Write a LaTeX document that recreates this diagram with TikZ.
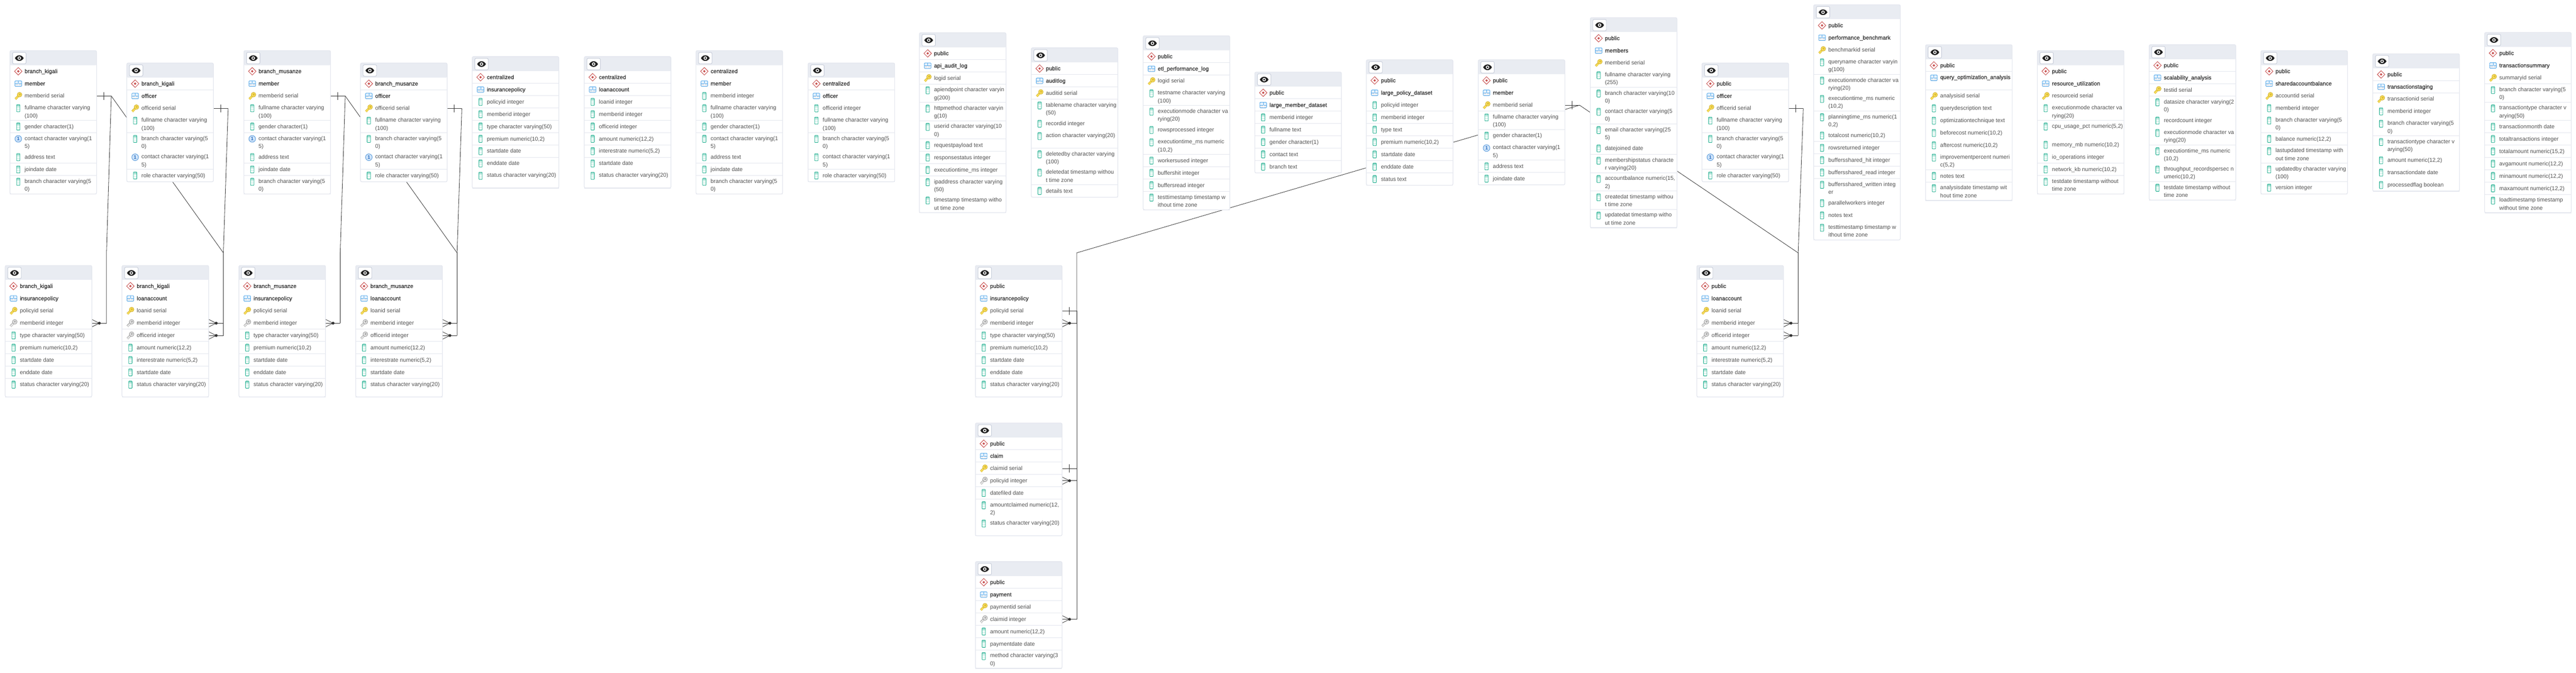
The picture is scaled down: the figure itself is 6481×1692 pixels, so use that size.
\documentclass[tikz,border=0pt]{standalone}
\usepackage{fontspec}
\setmainfont{Liberation Sans}
\newfontfamily\erdnamefont[FakeBold=0.7]{Liberation Sans}
\pgfdeclarelayer{links}
\pgfsetlayers{links,main}
\definecolor{headgrey}{HTML}{E9ECF2}
\definecolor{sepgrey}{HTML}{E3E6EE}
\definecolor{btnedge}{HTML}{C5CBD8}
\definecolor{textgrey}{HTML}{515151}
\definecolor{namegrey}{HTML}{303030}
\definecolor{linkgrey}{HTML}{333333}
\definecolor{eyeblack}{HTML}{202020}
\definecolor{redicon}{HTML}{C8504F}
\definecolor{blueedge}{HTML}{58ABEC}
\definecolor{bluecell}{HTML}{E4F1FC}
\definecolor{greycell}{HTML}{E3E5EA}
\definecolor{tealedge}{HTML}{1FAE8F}
\definecolor{tealcell}{HTML}{D3F1E9}
\definecolor{goldedge}{HTML}{CDAA22}
\definecolor{goldcell}{HTML}{F7DD5C}
\definecolor{keyedge}{HTML}{8D8D8D}
\definecolor{keycell}{HTML}{E6E6E6}
\definecolor{oneedge}{HTML}{5A9BDB}
\definecolor{onecell}{HTML}{CFE4FA}
\definecolor{onetext}{HTML}{2A6DBF}

\tikzset{
		erdbox/.style={anchor=north west,inner sep=0pt,outer sep=0pt,minimum width=4.36cm,fill=white},
		erdhead/.style={erdbox,fill=headgrey,minimum height=0.734cm,rounded corners=1.5pt},
		erdbtn/.style={anchor=north west,inner sep=0pt,outer sep=0pt,minimum width=0.68cm,minimum height=0.58cm,fill=white,draw=btnedge,line width=0.7pt,rounded corners=2pt},
		erdsep/.style={draw=sepgrey,line width=0.9pt},
		erdframe/.style={draw=sepgrey,line width=0.9pt,rounded corners=2pt},
		erdtext/.style={anchor=north west,inner sep=0pt,outer sep=0pt,align=left,text=textgrey,font=\fontsize{8}{11.34}\selectfont},
		erdname/.style={erdtext,text=namegrey,font=\fontsize{8}{11.34}\selectfont\erdnamefont},
		erdlink/.style={draw=linkgrey,line width=0.6pt},
		pics/iconeye/.style={code={
				\fill[eyeblack] (-11,0) .. controls (-6,-9.5) and (6,-9.5) .. (11,0) .. controls (6,9.5) and (-6,9.5) .. (-11,0);
				\fill[white] (0,0) circle (4.4);
				\fill[eyeblack] (0,0) circle (2.4);
		}},
		pics/icons/.style={code={
				\draw[redicon,fill=white,line width=0.7pt] (0,-9.5) -- (9.5,0) -- (0,9.5) -- (-9.5,0) -- cycle;
				\fill[redicon] (0,-3.2) -- (3.2,0) -- (0,3.2) -- (-3.2,0) -- cycle;
		}},
		pics/icont/.style={code={
				\fill[bluecell] (-8.5,-7) rectangle (8.5,0);
				\fill[greycell] (-8.5,0) rectangle (8.5,7);
				\draw[blueedge,line width=0.35pt] (0,-7) -- (0,0) (-8.5,0) -- (8.5,0);
				\draw[white,line width=0.35pt] (0,0) -- (0,7) (-8.5,3.5) -- (8.5,3.5);
				\draw[blueedge,line width=0.7pt,rounded corners=1pt] (-8.5,-7) rectangle (8.5,7);
		}},
		pics/keyicon/.style 2 args={code={
				\draw[#1,line width=2.7pt] (2,-2) -- (-7.5,7.5) (-6,6) -- (-3.5,8) (-3,3) -- (-0.8,5);
				\draw[#2,line width=1.6pt] (2,-2) -- (-7.5,7.5) (-6,6) -- (-3.5,8) (-3,3) -- (-0.8,5);
				\fill[#1] (3.2,-3.2) circle (6.4);
				\fill[#2] (3.2,-3.2) circle (5.2);
				\draw[#1,line width=0.5pt] (3.7,-3.7) circle (2);
		}},
		pics/iconp/.style={code={\pic {keyicon={goldedge}{goldcell}};}},
		pics/iconf/.style={code={\pic {keyicon={keyedge}{keycell}};}},
		pics/iconc/.style={code={
				\fill[tealcell] (-4.3,-9) rectangle (4.3,9);
				\fill[white] (-4.3,-1) rectangle (4.3,1.5) (-4.3,4) rectangle (4.3,6.5);
				\fill[tealedge!45] (-4.3,-9) rectangle (4.3,-5);
				\draw[tealedge,line width=0.6pt,rounded corners=0.7pt] (-4.3,-9) rectangle (4.3,9);
		}},
		pics/iconu/.style={code={
				\draw[oneedge,fill=onecell,line width=0.7pt] (0,0) circle (8.4);
				\node[inner sep=0pt,text=onetext,font=\fontsize{7}{8}\selectfont\bfseries] (-one) at (0,0) {1};
		}},
}

\newcommand{\rowtop}{0}
\newcommand{\erdrow}[7]{%
		\pgfmathsetmacro{\rowh}{#4==2?46:31}
		\pgfmathsetmacro{\rowoff}{#4==2?4.7:6}
		\node[erdbox,minimum height=\rowh*0.02cm] (#1-#2) at (#6,\rowtop) {};
		\draw[erdsep] (#1-#2.south west) -- (#1-#2.south east);
		\pic (#1-#2-i) at ([shift={(21,15.3)}]#1-#2.north west) {icon#3};
		\node[#7] (#1-#2-t) at ([shift={(37,\rowoff)}]#1-#2.north west) {\strut #5};
		\pgfmathparse{\rowtop+\rowh}
		\xdef\rowtop{\pgfmathresult}
}
\newcommand{\erdtable}[7][1]{%
		\node[erdhead] (#2) at (#3,#4) {};
		\node[erdbtn] (#2-btn) at ([shift={(6.5,4.4)}]#2.north west) {};
		\pic (#2-eye) at (#2-btn.center) {iconeye};
		\pgfmathparse{#4+36.7}
		\xdef\rowtop{\pgfmathresult}
		\erdrow{#2}{1}{s}{1}{#5}{#3}{erdname}
		\erdrow{#2}{2}{t}{#1}{#6}{#3}{erdname}
		\foreach \rk/\rl/\rt [count=\rn from 3] in #7 {
				\erdrow{#2}{\rn}{\rk}{\rl}{\rt}{#3}{erdtext}
		}
		\draw[erdframe] (#2.north west) rectangle (#3+218,\rowtop);
}
\newcommand{\barend}[1]{%
		\coordinate (#1-c) at ([shift={(37,0)}]#1.east);
		\draw[erdlink] (#1.east) -- (#1-c);
		\draw[erdlink] ([shift={(18,-10)}]#1.east) -- ([shift={(18,10)}]#1.east);
}
\newcommand{\crowend}[1]{%
		\coordinate (#1-c) at ([shift={(37,0)}]#1.east);
		\draw[erdlink] (#1.east) -- (#1-c);
		\draw[erdlink] ([shift={(0,-9.5)}]#1.east) -- ([shift={(19,0)}]#1.east) -- ([shift={(0,9.5)}]#1.east);
		\fill[linkgrey] ([shift={(19,0)}]#1.east) circle (3.6);
}

\def\rowsbmember{p/1/memberid serial,
		c/2/fullname character varying\\(100),
		c/1/gender character(1),
		u/2/contact character varying(1\\5),
		c/1/address text,
		c/1/joindate date,
		c/2/branch character varying(5\\0)}
\def\rowsbofficer{p/1/officerid serial,
		c/2/fullname character varying\\(100),
		c/2/branch character varying(5\\0),
		u/2/contact character varying(1\\5),
		c/1/role character varying(50)}
\def\rowsbpolicy{p/1/policyid serial,
		f/1/memberid integer,
		c/1/type character varying(50),
		c/1/{premium numeric(10,2)},
		c/1/startdate date,
		c/1/enddate date,
		c/2/status character varying(20)}
\def\rowsbloan{p/1/loanid serial,
		f/1/memberid integer,
		f/1/officerid integer,
		c/1/{amount numeric(12,2)},
		c/1/{interestrate numeric(5,2)},
		c/1/startdate date,
		c/2/status character varying(20)}
\def\rowscpolicy{c/1/policyid integer,
		c/1/memberid integer,
		c/1/type character varying(50),
		c/1/{premium numeric(10,2)},
		c/1/startdate date,
		c/1/enddate date,
		c/2/status character varying(20)}
\def\rowscloan{c/1/loanid integer,
		c/1/memberid integer,
		c/1/officerid integer,
		c/1/{amount numeric(12,2)},
		c/1/{interestrate numeric(5,2)},
		c/1/startdate date,
		c/2/status character varying(20)}
\def\rowscmember{c/1/memberid integer,
		c/2/fullname character varying\\(100),
		c/1/gender character(1),
		c/2/contact character varying(1\\5),
		c/1/address text,
		c/1/joindate date,
		c/2/branch character varying(5\\0)}
\def\rowscofficer{c/1/officerid integer,
		c/2/fullname character varying\\(100),
		c/2/branch character varying(5\\0),
		c/2/contact character varying(1\\5),
		c/1/role character varying(50)}
\def\rowsapilog{p/1/logid serial,
		c/2/apiendpoint character varyin\\g(200),
		c/2/httpmethod character varyin\\g(10),
		c/2/userid character varying(10\\0),
		c/1/requestpayload text,
		c/1/responsestatus integer,
		c/1/executiontime\_ms integer,
		c/2/ipaddress character varying\\(50),
		c/2/timestamp timestamp witho\\ut time zone}
\def\rowsauditlog{p/1/auditid serial,
		c/2/tablename character varying\\(50),
		c/1/recordid integer,
		c/2/action character varying(20),
		c/2/deletedby character varying\\(100),
		c/2/deletedat timestamp withou\\t time zone,
		c/1/details text}
\def\rowsetllog{p/1/logid serial,
		c/2/testname character varying\\(100),
		c/2/executionmode character va\\rying(20),
		c/1/rowsprocessed integer,
		c/2/{executiontime\_ms numeric\\(10,2)},
		c/1/workersused integer,
		c/1/buffershit integer,
		c/1/buffersread integer,
		c/2/testtimestamp timestamp w\\ithout time zone}
\def\rowslmember{c/1/memberid integer,
		c/1/fullname text,
		c/1/gender character(1),
		c/1/contact text,
		c/1/branch text}
\def\rowslpolicy{c/1/policyid integer,
		c/1/memberid integer,
		c/1/type text,
		c/1/{premium numeric(10,2)},
		c/1/startdate date,
		c/1/enddate date,
		c/1/status text}
\def\rowspmember{p/1/memberid serial,
		c/2/fullname character varying\\(100),
		c/1/gender character(1),
		u/2/contact character varying(1\\5),
		c/1/address text,
		c/1/joindate date}
\def\rowsmembers{p/1/memberid serial,
		c/2/fullname character varying\\(255),
		c/2/branch character varying(10\\0),
		c/2/contact character varying(5\\0),
		c/2/email character varying(25\\5),
		c/1/datejoined date,
		c/2/membershipstatus characte\\r varying(20),
		c/2/{accountbalance numeric(15,\\2)},
		c/2/createdat timestamp withou\\t time zone,
		c/2/updatedat timestamp witho\\ut time zone}
\def\rowsbench{p/1/benchmarkid serial,
		c/2/queryname character varyin\\g(100),
		c/2/executionmode character va\\rying(20),
		c/2/{executiontime\_ms numeric\\(10,2)},
		c/2/{planningtime\_ms numeric(1\\0,2)},
		c/1/{totalcost numeric(10,2)},
		c/1/rowsreturned integer,
		c/1/buffersshared\_hit integer,
		c/1/buffersshared\_read integer,
		c/2/buffersshared\_written integ\\er,
		c/1/parallelworkers integer,
		c/1/notes text,
		c/2/testtimestamp timestamp w\\ithout time zone}
\def\rowsquery{p/1/analysisid serial,
		c/1/querydescription text,
		c/1/optimizationtechnique text,
		c/1/{beforecost numeric(10,2)},
		c/1/{aftercost numeric(10,2)},
		c/2/{improvementpercent numeri\\c(5,2)},
		c/1/notes text,
		c/2/analysisdate timestamp wit\\hout time zone}
\def\rowsresource{p/1/resourceid serial,
		c/2/executionmode character va\\rying(20),
		c/2/{cpu\_usage\_pct numeric(5,2)},
		c/1/{memory\_mb numeric(10,2)},
		c/1/io\_operations integer,
		c/1/{network\_kb numeric(10,2)},
		c/2/testdate timestamp without\\time zone}
\def\rowsscale{p/1/testid serial,
		c/2/datasize character varying(2\\0),
		c/1/recordcount integer,
		c/2/executionmode character va\\rying(20),
		c/2/{executiontime\_ms numeric\\(10,2)},
		c/2/{throughput\_recordspersec n\\umeric(10,2)},
		c/2/testdate timestamp without\\time zone}
\def\rowsshared{p/1/accountid serial,
		c/1/memberid integer,
		c/2/branch character varying(5\\0),
		c/1/{balance numeric(12,2)},
		c/2/lastupdated timestamp with\\out time zone,
		c/2/updatedby character varying\\(100),
		c/1/version integer}
\def\rowsstaging{p/1/transactionid serial,
		c/1/memberid integer,
		c/2/branch character varying(5\\0),
		c/2/transactiontype character v\\arying(50),
		c/1/{amount numeric(12,2)},
		c/1/transactiondate date,
		c/1/processedflag boolean}
\def\rowssummary{p/1/summaryid serial,
		c/2/branch character varying(5\\0),
		c/2/transactiontype character v\\arying(50),
		c/1/transactionmonth date,
		c/1/totaltransactions integer,
		c/1/{totalamount numeric(15,2)},
		c/1/{avgamount numeric(12,2)},
		c/1/{minamount numeric(12,2)},
		c/1/{maxamount numeric(12,2)},
		c/2/loadtimestamp timestamp\\without time zone}
\def\rowsclaim{p/1/claimid serial,
		f/1/policyid integer,
		c/1/datefiled date,
		c/2/{amountclaimed numeric(12,\\2)},
		c/2/status character varying(20)}
\def\rowspayment{p/1/paymentid serial,
		f/1/claimid integer,
		c/1/{amount numeric(12,2)},
		c/1/paymentdate date,
		c/2/method character varying(3\\0)}

\begin{document}
\begin{tikzpicture}[x=0.02cm,y=-0.02cm]
		\useasboundingbox (0,0) rectangle (6481,1692);
		\erdtable{km}{25}{127.3}{branch\_kigali}{member}{\rowsbmember}
		\erdtable{ko}{319}{158.5}{branch\_kigali}{officer}{\rowsbofficer}
		\erdtable{mm}{613.6}{127.3}{branch\_musanze}{member}{\rowsbmember}
		\erdtable{mo}{907}{158.5}{branch\_musanze}{officer}{\rowsbofficer}
		\erdtable{cp}{1188}{142.3}{centralized}{insurancepolicy}{\rowscpolicy}
		\erdtable{cl}{1470}{142.3}{centralized}{loanaccount}{\rowscloan}
		\erdtable{cm}{1751}{127.3}{centralized}{member}{\rowscmember}
		\erdtable{co}{2033}{158.5}{centralized}{officer}{\rowscofficer}
		\erdtable{aa}{2313}{82.3}{public}{api\_audit\_log}{\rowsapilog}
		\erdtable{al}{2594.5}{120.3}{public}{auditlog}{\rowsauditlog}
		\erdtable{el}{2876}{90}{public}{etl\_performance\_log}{\rowsetllog}
		\erdtable{lm}{3157}{181.3}{public}{large\_member\_dataset}{\rowslmember}
		\erdtable{lp}{3437.5}{150.4}{public}{large\_policy\_dataset}{\rowslpolicy}
		\erdtable{pm}{3719}{150.4}{public}{member}{\rowspmember}
		\erdtable{ms}{4001}{44.3}{public}{members}{\rowsmembers}
		\erdtable{po}{4282}{158.5}{public}{officer}{\rowsbofficer}
		\erdtable{pb}{4563}{11.9}{public}{performance\_benchmark}{\rowsbench}
		\erdtable[2]{qa}{4844.4}{112.6}{public}{query\_optimization\_analysis}{\rowsquery}
		\erdtable{ru}{5125.7}{127.3}{public}{resource\_utilization}{\rowsresource}
		\erdtable{sa}{5407}{112.4}{public}{scalability\_analysis}{\rowsscale}
		\erdtable{sb}{5688}{127.3}{public}{sharedaccountbalance}{\rowsshared}
		\erdtable{ts}{5969.6}{135.3}{public}{transactionstaging}{\rowsstaging}
		\erdtable{tm}{6251}{81.7}{public}{transactionsummary}{\rowssummary}
		\erdtable{ki}{13}{667.7}{branch\_kigali}{insurancepolicy}{\rowsbpolicy}
		\erdtable{kl}{307}{667.7}{branch\_kigali}{loanaccount}{\rowsbloan}
		\erdtable{mi}{601}{667.7}{branch\_musanze}{insurancepolicy}{\rowsbpolicy}
		\erdtable{ml}{895}{667.7}{branch\_musanze}{loanaccount}{\rowsbloan}
		\erdtable{pi}{2454}{667.7}{public}{insurancepolicy}{\rowsbpolicy}
		\erdtable{pc}{2454}{1064}{public}{claim}{\rowsclaim}
		\erdtable{py}{2454}{1412.5}{public}{payment}{\rowspayment}
		\erdtable{pl}{4269}{667.7}{public}{loanaccount}{\rowsbloan}
		\coordinate (bend) at (0,636);
		\begin{pgfonlayer}{links}
				\fill[white] (0,0) rectangle (6481,1692);
				\foreach \rowname in {km-3,ko-3,mm-3,mo-3,pm-3,po-3,pi-3,pc-3}
						\barend{\rowname};
				\foreach \rowname in {ki-4,kl-4,kl-5,mi-4,ml-4,ml-5,pi-4,pl-4,pl-5,pc-4,py-4}
						\crowend{\rowname};
				\draw[erdlink] (km-3-c) -- (ki-4-c |- bend) -- (ki-4-c);
				\draw[erdlink] (km-3-c) -- (kl-4-c |- bend) -- (kl-4-c);
				\draw[erdlink] (ko-3-c) -- (kl-5-c |- bend) -- (kl-5-c);
				\draw[erdlink] (mm-3-c) -- (mi-4-c |- bend) -- (mi-4-c);
				\draw[erdlink] (mm-3-c) -- (ml-4-c |- bend) -- (ml-4-c);
				\draw[erdlink] (mo-3-c) -- (ml-5-c |- bend) -- (ml-5-c);
				\draw[erdlink] (pm-3-c) -- (pi-4-c |- bend) -- (pi-4-c);
				\draw[erdlink] (pm-3-c) -- (pl-4-c |- bend) -- (pl-4-c);
				\draw[erdlink] (po-3-c) -- (pl-5-c |- bend) -- (pl-5-c);
				\draw[erdlink] (pi-3-c) -- (pc-4-c);
				\draw[erdlink] (pc-3-c) -- (py-4-c);
		\end{pgfonlayer}
\end{tikzpicture}
\end{document}
